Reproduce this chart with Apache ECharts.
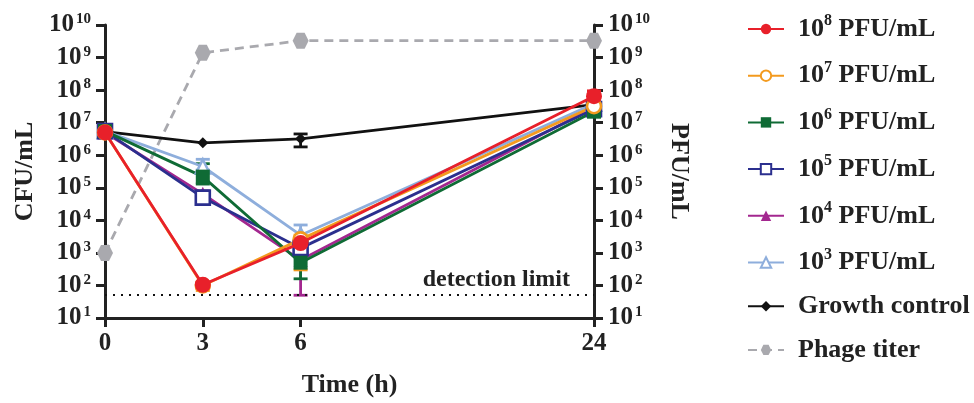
<!DOCTYPE html>
<html>
<head>
<meta charset="utf-8">
<script src="https://cdn.jsdelivr.net/npm/echarts@6/dist/echarts.min.js"></script>
<style>
html,body{margin:0;padding:0;background:#fff;}
#main{width:974px;height:403px;}
</style>
</head>
<body>
<div id="main"></div>
<script>
// sampling times (h) and where they sit on the (compressed) x axis
var times = ['0', '3', '6', '24'];
var timePos = [0, 3, 6, 15];

// CFU/mL for each phage dose
var cfu8 = [5.0e6, 1.05e2, 2.0e3, 6.5e7];
var cfu7 = [5.0e6, 1.0e2, 2.6e3, 3.2e7];
var cfu6 = [5.5e6, 2.2e5, 5.0e2, 2.2e7];
var cfu5 = [5.5e6, 5.0e4, 1.4e3, 2.6e7];
var cfu4 = [5.0e6, 6.5e4, 6.0e2, 3.0e7];
var cfu3 = [5.5e6, 4.5e5, 3.5e3, 3.8e7];
var control = [5.3e6, 2.4e6, 3.2e6, 3.6e7];
var phage = [1.0e3, 1.4e9, 3.3e9, 3.3e9];
var detectionLimit = 50;

// error bars [low, high] per time point
var err8 = [null, [80, 130], [1.5e3, 2.8e3], [4.5e7, 9.5e7]];
var err7 = [null, [70, 120], [3.0e2, 3.5e3], [2.5e7, 4.0e7]];
var err6 = [null, [1.3e5, 5.5e5], [1.6e2, 1.0e3], [1.5e7, 3.0e7]];
var err5 = [[4.5e6, 8.0e6], [3.5e4, 7.0e4], [8.0e2, 2.2e3], [2.0e7, 3.2e7]];
var err4 = [null, [5.0e4, 8.0e4], [5.0e1, 1.1e3], null];
var err3 = [null, [3.5e5, 7.5e5], [2.0e3, 7.2e3], null];
var errCtrl = [null, null, [1.8e6, 4.5e6], null];

var legendNames = ['10^8', '10^7', '10^6', '10^5', '10^4', '10^3', 'Growth control', 'Phage titer'];

var FONT = 'Liberation Serif';
var hexagon = 'path://M0,5 L2.5,0.67 L7.5,0.67 L10,5 L7.5,9.33 L2.5,9.33 Z';

function pts(vals){
	var out = [];
	for (var i = 0; i < vals.length; i++) out.push([timePos[i], vals[i]]);
	return out;
}

function errData(errs, color){
	var out = [];
	for (var i = 0; i < errs.length; i++){
		if (errs[i]) out.push({value:[timePos[i], errs[i][0], errs[i][1]], itemStyle:{color:color}});
	}
	return out;
}

var colors = {
	'10^8':'#e8202a', '10^7':'#f39a1e', '10^6':'#0f6b35', '10^5':'#2b2f8e',
	'10^4':'#a3278f', '10^3':'#8eaedc', 'Growth control':'#111111', 'Phage titer':'#a9a9ae'
};

var errAll = []
	.concat(errData(errCtrl, colors['Growth control']))
	.concat(errData(err3, colors['10^3']))
	.concat(errData(err4, colors['10^4']))
	.concat(errData(err5, colors['10^5']))
	.concat(errData(err6, colors['10^6']))
	.concat(errData(err7, colors['10^7']))
	.concat(errData(err8, colors['10^8']));

function sup(v){
	var e = Math.round(Math.log(v) / Math.LN10);
	return '{b|10}{s|' + e + '}';
}

var tickRich = {
	b:{fontFamily:FONT, fontWeight:'bold', fontSize:25, lineHeight:26, color:'#222'},
	s:{fontFamily:FONT, fontWeight:'bold', fontSize:15, lineHeight:15, verticalAlign:'top', color:'#222', padding:[0,0,0,2]}
};

function yAxisCfg(pos, name){
	return {
		type:'log', logBase:10, min:10, max:1e10, interval:1,
		position:pos,
		name:name, nameLocation:'middle', nameRotate: pos == 'left' ? 90 : -90,
		nameGap: pos == 'left' ? 67 : 72,
		nameTextStyle:{fontFamily:FONT, fontWeight:'bold', fontSize:26, color:'#222'},
		axisLine:{show:true, lineStyle:{color:'#222', width:3}},
		axisTick:{show:true, length:9, lineStyle:{color:'#222', width:3}},
		minorTick:{show:false},
		splitLine:{show:false},
		axisLabel:{formatter:sup, rich:tickRich, margin:14}
	};
}

function lineSeries(key, data, symbol, size, filled, dashed, yIdx){
	var c = colors[key];
	return {
		name:key, type:'line', data:pts(data), yAxisIndex:yIdx || 0,
		symbol:symbol, symbolSize:size, showAllSymbol:true, z:3,
		lineStyle:{color:c, width:2.8, type: dashed ? [9,6] : 'solid'},
		itemStyle:{color: filled ? c : '#fff', borderColor:c, borderWidth: filled ? 0 : 2.6},
		emphasis:{disabled:true}
	};
}

var chart = echarts.init(document.getElementById('main'));
var option = {
	backgroundColor:'#fff',
	animation:false,
	grid:{left:105, right:380, top:25, bottom:85},
	legend:{
		orient:'vertical', left:742, top:8, itemGap:17.7,
		itemWidth:36, itemHeight:13,
		data:legendNames,
		textStyle:{fontFamily:FONT, fontWeight:'bold', fontSize:26, color:'#222',
			rich:{
				g:{width:9},
				b:{fontFamily:FONT, fontWeight:'bold', fontSize:26, lineHeight:32, color:'#222'},
				s:{fontFamily:FONT, fontWeight:'bold', fontSize:16, lineHeight:18, verticalAlign:'top', color:'#222'}
			}},
		formatter:function(n){
			if (n.indexOf('10^') == 0) return '{g|}{b|10}{s|' + n.slice(3) + '}{b| PFU/mL}';
			return '{g|}{b|' + n + '}';
		}
	},
	xAxis:{
		type:'value', min:0, max:15,
		name:'Time (h)', nameLocation:'middle', nameGap:54,
		nameTextStyle:{fontFamily:FONT, fontWeight:'bold', fontSize:26, color:'#222'},
		axisLine:{onZero:false, lineStyle:{color:'#222', width:3}},
		axisTick:{customValues:timePos, length:9, lineStyle:{color:'#222', width:3}},
		splitLine:{show:false},
		axisLabel:{customValues:timePos, margin:13,
			fontFamily:FONT, fontWeight:'bold', fontSize:25, color:'#222',
			formatter:function(v){ return times[timePos.indexOf(v)]; }}
	},
	yAxis:[yAxisCfg('left', 'CFU/mL'), yAxisCfg('right', 'PFU/mL')],
	series:[
		{
			name:'errors', type:'custom', z:2, data:errAll,
			encode:{x:0, y:[1,2]},
			renderItem:function(params, api){
				var x = api.value(0);
				var top = api.coord([x, api.value(2)]);
				var bot = api.coord([x, api.value(1)]);
				var w = 7;
				var st = {stroke:api.visual('color'), lineWidth:2.8};
				return {type:'group', children:[
					{type:'line', shape:{x1:top[0], y1:top[1], x2:bot[0], y2:bot[1]}, style:st},
					{type:'line', shape:{x1:top[0]-w, y1:top[1], x2:top[0]+w, y2:top[1]}, style:st},
					{type:'line', shape:{x1:bot[0]-w, y1:bot[1], x2:bot[0]+w, y2:bot[1]}, style:st}
				]};
			}
		},
		lineSeries('Phage titer', phage, hexagon, 16, true, true, 1),
		lineSeries('Growth control', control, 'diamond', 11, true),
		lineSeries('10^3', cfu3, 'triangle', 14, false),
		lineSeries('10^4', cfu4, 'triangle', 14, true),
		lineSeries('10^5', cfu5, 'rect', 14, false),
		lineSeries('10^6', cfu6, 'rect', 14, true),
		lineSeries('10^7', cfu7, 'circle', 14, false),
		{
			name:'10^8', type:'line', data:pts(cfu8), symbol:'circle', symbolSize:16, z:4,
			lineStyle:{color:colors['10^8'], width:2.8},
			itemStyle:{color:colors['10^8']},
			emphasis:{disabled:true},
			markLine:{
				silent:true, symbol:'none',
				lineStyle:{color:'#111', type:[2,6], width:2.2},
				label:{position:'insideEndTop', formatter:'detection limit', distance:[24,3],
					fontFamily:FONT, fontWeight:'bold', fontSize:24, color:'#222'},
				data:[{yAxis:detectionLimit}]
			}
		}
	]
};
chart.setOption(option);
</script>
</body>
</html>
